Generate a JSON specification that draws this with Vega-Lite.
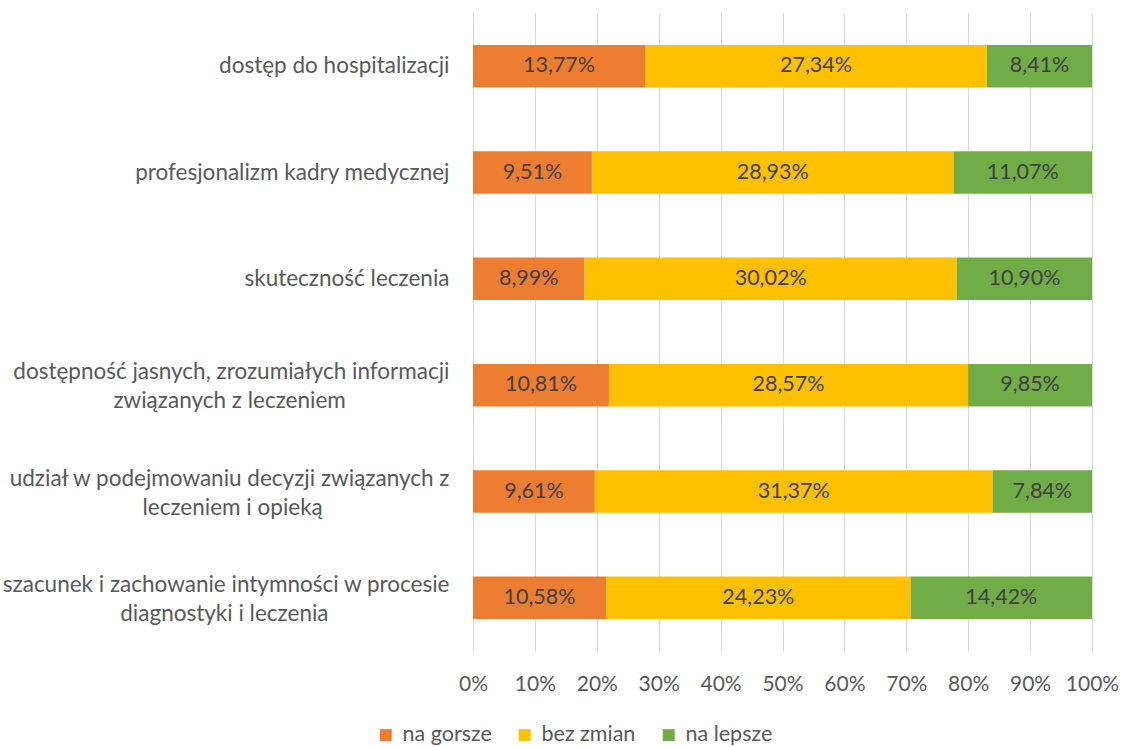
{
  "$schema": "https://vega.github.io/schema/vega-lite/v6.json",
  "autosize": {"type": "none"},
  "padding": {"left": 473, "top": 13, "right": 35, "bottom": 96},
  "width": 619,
  "height": 638,
  "background": "white",
  "config": {"font": "Lato", "view": {"stroke": null}},
  "data": {
    "values": [
      {"cat": "dostęp do hospitalizacji", "o": 1, "s": "na gorsze", "k": 1, "v": 13.77, "lab": "13,77%"},
      {"cat": "dostęp do hospitalizacji", "o": 1, "s": "bez zmian", "k": 2, "v": 27.34, "lab": "27,34%"},
      {"cat": "dostęp do hospitalizacji", "o": 1, "s": "na lepsze", "k": 3, "v": 8.41, "lab": "8,41%"},
      {"cat": "profesjonalizm kadry medycznej", "o": 2, "s": "na gorsze", "k": 1, "v": 9.51, "lab": "9,51%"},
      {"cat": "profesjonalizm kadry medycznej", "o": 2, "s": "bez zmian", "k": 2, "v": 28.93, "lab": "28,93%"},
      {"cat": "profesjonalizm kadry medycznej", "o": 2, "s": "na lepsze", "k": 3, "v": 11.07, "lab": "11,07%"},
      {"cat": "skuteczność leczenia", "o": 3, "s": "na gorsze", "k": 1, "v": 8.99, "lab": "8,99%"},
      {"cat": "skuteczność leczenia", "o": 3, "s": "bez zmian", "k": 2, "v": 30.02, "lab": "30,02%"},
      {"cat": "skuteczność leczenia", "o": 3, "s": "na lepsze", "k": 3, "v": 10.90, "lab": "10,90%"},
      {"cat": "dostępność jasnych, zrozumiałych informacji|związanych z leczeniem\u00a0\u00a0\u00a0\u00a0\u00a0\u00a0\u00a0\u00a0\u00a0\u00a0\u00a0\u00a0\u00a0\u00a0\u00a0\u00a0\u00a0\u00a0\u200b", "o": 4, "s": "na gorsze", "k": 1, "v": 10.81, "lab": "10,81%"},
      {"cat": "dostępność jasnych, zrozumiałych informacji|związanych z leczeniem\u00a0\u00a0\u00a0\u00a0\u00a0\u00a0\u00a0\u00a0\u00a0\u00a0\u00a0\u00a0\u00a0\u00a0\u00a0\u00a0\u00a0\u00a0\u200b", "o": 4, "s": "bez zmian", "k": 2, "v": 28.57, "lab": "28,57%"},
      {"cat": "dostępność jasnych, zrozumiałych informacji|związanych z leczeniem\u00a0\u00a0\u00a0\u00a0\u00a0\u00a0\u00a0\u00a0\u00a0\u00a0\u00a0\u00a0\u00a0\u00a0\u00a0\u00a0\u00a0\u00a0\u200b", "o": 4, "s": "na lepsze", "k": 3, "v": 9.85, "lab": "9,85%"},
      {"cat": "udział w podejmowaniu decyzji związanych z|leczeniem i opieką\u00a0\u00a0\u00a0\u00a0\u00a0\u00a0\u00a0\u00a0\u00a0\u00a0\u00a0\u00a0\u00a0\u00a0\u00a0\u00a0\u00a0\u00a0\u00a0\u00a0\u00a0\u00a0\u200b", "o": 5, "s": "na gorsze", "k": 1, "v": 9.61, "lab": "9,61%"},
      {"cat": "udział w podejmowaniu decyzji związanych z|leczeniem i opieką\u00a0\u00a0\u00a0\u00a0\u00a0\u00a0\u00a0\u00a0\u00a0\u00a0\u00a0\u00a0\u00a0\u00a0\u00a0\u00a0\u00a0\u00a0\u00a0\u00a0\u00a0\u00a0\u200b", "o": 5, "s": "bez zmian", "k": 2, "v": 31.37, "lab": "31,37%"},
      {"cat": "udział w podejmowaniu decyzji związanych z|leczeniem i opieką\u00a0\u00a0\u00a0\u00a0\u00a0\u00a0\u00a0\u00a0\u00a0\u00a0\u00a0\u00a0\u00a0\u00a0\u00a0\u00a0\u00a0\u00a0\u00a0\u00a0\u00a0\u00a0\u200b", "o": 5, "s": "na lepsze", "k": 3, "v": 7.84, "lab": "7,84%"},
      {"cat": "szacunek i zachowanie intymności w procesie|diagnostyki i leczenia\u00a0\u00a0\u00a0\u00a0\u00a0\u00a0\u00a0\u00a0\u00a0\u00a0\u00a0\u00a0\u00a0\u00a0\u00a0\u00a0\u00a0\u00a0\u00a0\u00a0\u00a0\u200b", "o": 6, "s": "na gorsze", "k": 1, "v": 10.58, "lab": "10,58%"},
      {"cat": "szacunek i zachowanie intymności w procesie|diagnostyki i leczenia\u00a0\u00a0\u00a0\u00a0\u00a0\u00a0\u00a0\u00a0\u00a0\u00a0\u00a0\u00a0\u00a0\u00a0\u00a0\u00a0\u00a0\u00a0\u00a0\u00a0\u00a0\u200b", "o": 6, "s": "bez zmian", "k": 2, "v": 24.23, "lab": "24,23%"},
      {"cat": "szacunek i zachowanie intymności w procesie|diagnostyki i leczenia\u00a0\u00a0\u00a0\u00a0\u00a0\u00a0\u00a0\u00a0\u00a0\u00a0\u00a0\u00a0\u00a0\u00a0\u00a0\u00a0\u00a0\u00a0\u00a0\u00a0\u00a0\u200b", "o": 6, "s": "na lepsze", "k": 3, "v": 14.42, "lab": "14,42%"}
    ]
  },
  "encoding": {
    "y": {
      "field": "cat", "type": "nominal", "sort": {"field": "o", "op": "min"},
      "scale": {"paddingInner": 0.6, "paddingOuter": 0.3},
      "axis": {
        "title": null, "domain": false, "ticks": false, "grid": false,
        "labelExpr": "split(datum.label, '|')",
        "labelFontSize": 22.5, "labelColor": "#595959", "labelPadding": 24,
        "labelLineHeight": 29, "labelLimit": 0,
        "labelOffset": {"condition": {"test": "indexof(datum.label, '|') >= 0", "value": -13}, "value": 0}
      }
    },
    "x": {
      "field": "v", "type": "quantitative", "stack": "normalize",
      "scale": {"domain": [0, 1]},
      "axis": {
        "title": null, "format": ".0%", "values": [0, 0.1, 0.2, 0.3, 0.4, 0.5, 0.6, 0.7, 0.8, 0.9, 1],
        "labelOverlap": false, "labelFlush": false,
        "domain": false, "ticks": false, "grid": true, "gridColor": "#D9D9D9", "gridWidth": 1,
        "labelFontSize": 21, "labelColor": "#595959", "labelPadding": 22
      }
    },
    "order": {"field": "k", "type": "quantitative"}
  },
  "layer": [
    {
      "mark": {"type": "bar"},
      "encoding": {
        "color": {
          "field": "s", "type": "nominal",
          "scale": {"domain": ["na gorsze", "bez zmian", "na lepsze"], "range": ["#ED7D31", "#FFC000", "#70AD47"]},
          "legend": {
            "title": null, "orient": "none", "direction": "horizontal",
            "legendX": -98, "legendY": 711,
            "symbolType": "square", "symbolSize": 144, "symbolStrokeWidth": 0,
            "labelFontSize": 21.5, "labelColor": "#595959", "labelOffset": 6,
            "columnPadding": 22, "labelLimit": 0
          }
        }
      }
    },
    {
      "mark": {"type": "text", "fontSize": 21.5, "color": "#404040"},
      "encoding": {
        "x": {"field": "v", "type": "quantitative", "stack": "normalize", "bandPosition": 0.5},
        "text": {"field": "lab"}
      }
    }
  ]
}
